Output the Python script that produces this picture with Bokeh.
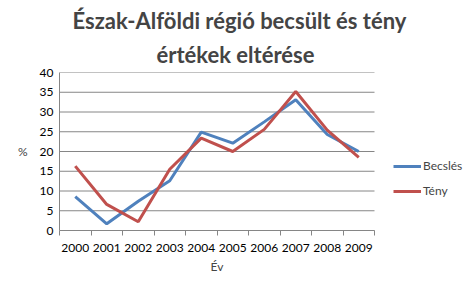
from bokeh.plotting import figure
from bokeh.models import FixedTicker, Legend, LegendItem, Range1d, Title
from bokeh.embed import file_html
from bokeh.resources import INLINE

years = ["2000", "2001", "2002", "2003", "2004", "2005", "2006", "2007", "2008", "2009"]
becsles = [8.6, 1.7, 7.4, 12.6, 24.9, 22.1, 27.5, 33.1, 24.3, 20.0]
teny = [16.3, 6.6, 2.2, 15.5, 23.4, 20.0, 25.6, 35.2, 25.4, 18.5]
y_ticks = [0, 5, 10, 15, 20, 25, 30, 35, 40]
title_lines = ["Észak-Alföldi régió becsült és tény", "értékek eltérése"]

FONT = "Lato"
n = len(years)
xs = [i + 0.5 for i in range(n)]

# plot area spans 315 px for the 10 categories; the frame is widened to the right
# so the legend can live inside it
x_end = n * 417 / 315

p = figure(width=476, height=285, output_backend="svg", toolbar_location=None,
           x_range=Range1d(0, x_end), y_range=Range1d(0, 40),
           min_border_left=59, min_border_right=0, min_border_top=72, min_border_bottom=55)
p.outline_line_color = None
p.background_fill_color = "white"

# horizontal gridlines limited to the category span
p.xgrid.grid_line_color = None
p.ygrid.grid_line_color = None
p.segment(x0=[0] * len(y_ticks), x1=[n] * len(y_ticks), y0=y_ticks, y1=y_ticks,
          line_color="#868686", line_width=1)

# x axis
p.xaxis.bounds = (0, n)
p.xaxis.ticker = FixedTicker(ticks=xs, minor_ticks=list(range(n + 1)))
p.xaxis.major_label_overrides = {x: y for x, y in zip(xs, years)}
p.xaxis.major_tick_out = 0
p.xaxis.major_tick_in = 0
p.xaxis.minor_tick_out = 5
p.xaxis.minor_tick_in = 0
p.xaxis.minor_tick_line_color = "#868686"
p.xaxis.axis_line_color = "#868686"
p.xaxis.major_label_text_font = FONT
p.xaxis.major_label_text_font_size = "12px"
p.xaxis.major_label_text_color = "black"
p.xaxis.major_label_standoff = 8

# y axis
p.yaxis.ticker = FixedTicker(ticks=y_ticks)
p.yaxis.major_tick_out = 0
p.yaxis.major_tick_in = 0
p.yaxis.minor_tick_out = 0
p.yaxis.minor_tick_in = 0
p.yaxis.axis_line_color = "#868686"
p.yaxis.major_label_text_font = FONT
p.yaxis.major_label_text_font_size = "12px"
p.yaxis.major_label_text_color = "black"
p.yaxis.major_label_standoff = 6
p.yaxis.axis_label = "%"
p.yaxis.axis_label_text_font = FONT
p.yaxis.axis_label_text_font_style = "normal"
p.yaxis.axis_label_text_font_size = "12px"
p.yaxis.axis_label_orientation = "horizontal"
p.yaxis.axis_label_standoff = 9

r1 = p.line(xs, becsles, line_color="#4F81BD", line_width=3)
r2 = p.line(xs, teny, line_color="#C0504D", line_width=3)

legend = Legend(items=[LegendItem(label="Becslés", renderers=[r1]),
                       LegendItem(label="Tény", renderers=[r2])],
                location=(334, 32), border_line_color=None, background_fill_alpha=0,
                label_text_font=FONT, label_text_font_size="12px",
                glyph_width=28, glyph_height=14, spacing=10, label_standoff=2,
                padding=4, margin=0)
p.add_layout(legend, "center")

# chart title (two lines) and x-axis caption as titles
t2 = Title(text=title_lines[1], align="left", offset=97, text_font=FONT,
           text_font_style="bold", text_font_size="22px", standoff=10)
t1 = Title(text=title_lines[0], align="left", offset=13, text_font=FONT,
           text_font_style="bold", text_font_size="22px", standoff=0)
p.add_layout(t2, "above")
p.add_layout(t1, "above")

xcap = Title(text="Év", align="left", offset=151, text_font=FONT,
             text_font_style="normal", text_font_size="12px", standoff=4)
p.add_layout(xcap, "below")

open("out.html", "w").write(file_html(p, INLINE))
